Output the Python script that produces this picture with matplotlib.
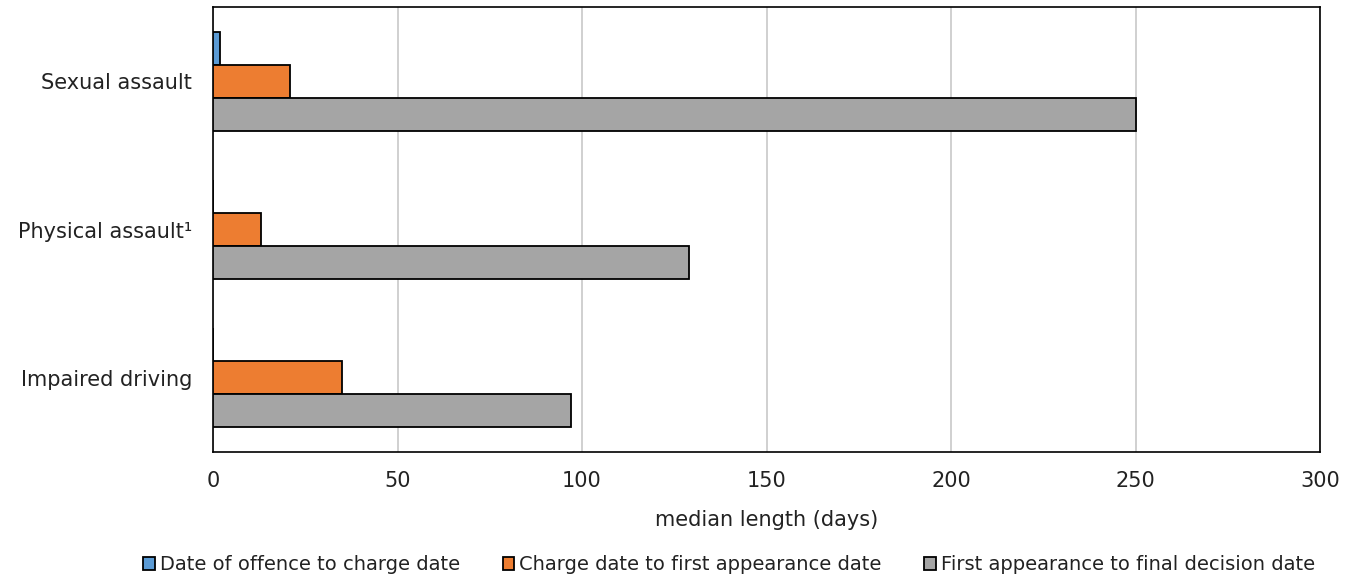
import matplotlib
matplotlib.use("Agg")
import matplotlib.pyplot as plt
import numpy as np

categories = ["Sexual assault", "Physical assault\u00b9", "Impaired driving"]
series_names = [
    "Date of offence to charge date",
    "Charge date to first appearance date",
    "First appearance to final decision date",
]
offence_to_charge = [2, 0, 0]
charge_to_first = [21, 13, 35]
first_to_final = [250, 129, 97]
colors = ["#5B9BD5", "#ED7D31", "#A5A5A5"]

plt.rcParams["font.family"] = ["DejaVu Sans"]

fig = plt.figure(figsize=(13.52, 5.77), dpi=100)
ax = fig.add_axes([213 / 1352, 1 - 452 / 577, (1320 - 213) / 1352, (452 - 7) / 577])

y = np.arange(len(categories))
h = 0.222
for i, (vals, name, c) in enumerate(zip([offence_to_charge, charge_to_first, first_to_final],
                                        series_names, colors)):
    ax.barh(y + (i - 1) * h, vals, height=h, color=c, edgecolor="black",
            linewidth=1.3, label=name, zorder=3)

ax.set_xlim(0, 300)
ax.set_ylim(2.5, -0.5)
ax.set_xticks(np.arange(0, 301, 50))
ax.set_yticks(y)
ax.set_yticklabels(categories, fontsize=15, color="#222222")
ax.tick_params(axis="x", labelsize=15, labelcolor="#222222", length=0, pad=14)
ax.tick_params(axis="y", length=0, pad=15)
ax.xaxis.grid(True, color="#C8C8C8", linewidth=1.2, zorder=0)
for s in ax.spines.values():
    s.set_color("black")
    s.set_linewidth(1.2)
ax.set_xlabel("median length (days)", fontsize=15, color="#222222", labelpad=13)

handles, labels = ax.get_legend_handles_labels()
leg = fig.legend(handles, labels, loc="center", bbox_to_anchor=(729 / 1352, 1 - 565 / 577), ncol=3,
                 frameon=False, fontsize=14, handlelength=0.6, handleheight=0.6,
                 handletextpad=0.25, columnspacing=2.2)
for t in leg.get_texts():
    t.set_color("#222222")

fig.savefig("out.png", dpi=100)
